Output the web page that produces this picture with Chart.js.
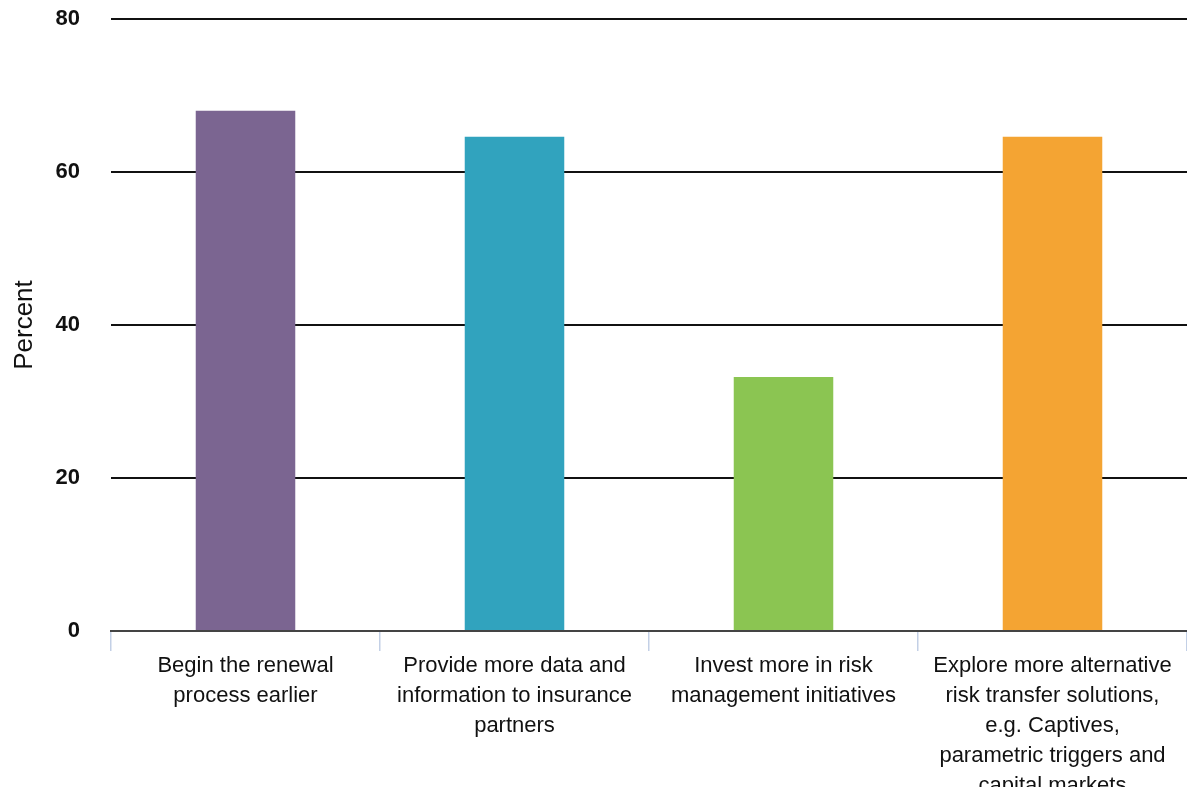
<!DOCTYPE html>
<html>
<head>
<meta charset="utf-8">
<script src="https://cdn.jsdelivr.net/npm/chart.js@4/dist/chart.umd.min.js"></script>
<style>
  html, body { margin: 0; padding: 0; background: #fff; }
  #wrap { width: 1187px; height: 787px; }
</style>
</head>
<body>
<div id="wrap"><canvas id="surveyChart"></canvas></div>
<script>
// Survey answers and their share of respondents
const actions = [
  ['Begin the renewal', 'process earlier'],
  ['Provide more data and', 'information to insurance', 'partners'],
  ['Invest more in risk', 'management initiatives'],
  ['Explore more alternative', 'risk transfer solutions,', 'e.g. Captives,', 'parametric triggers and', 'capital markets']
];
const percentValues = [68, 64.6, 33.2, 64.6];
const barColours = ['#7b6591', '#31a3be', '#8bc552', '#f4a433'];
const yTicks = [0, 20, 40, 60, 80];

const FONT = 'Liberation Sans, Arial, Helvetica, sans-serif';
const ctx = document.getElementById('surveyChart').getContext('2d');

new Chart(ctx, {
  type: 'bar',
  data: {
    labels: actions,
    datasets: [{
      label: 'Percent',
      data: percentValues,
      backgroundColor: barColours,
      borderWidth: 0,
      categoryPercentage: 0.37,
      barPercentage: 1
    }]
  },
  options: {
    responsive: true,
    maintainAspectRatio: false,
    animation: false,
    layout: { padding: { top: 19, right: -3, bottom: 0, left: 0 } },
    plugins: {
      legend: { display: false },
      tooltip: { enabled: false }
    },
    scales: {
      x: {
        grid: {
          offset: true,
          drawOnChartArea: false,
          drawTicks: true,
          tickLength: 20,
          color: '#c3d0e6',
          lineWidth: 1.5
        },
        border: { display: true, color: '#444', width: 2 },
        ticks: {
          autoSkip: false,
          maxRotation: 0,
          minRotation: 0,
          padding: 0,
          color: '#111',
          font: { family: FONT, size: 22, lineHeight: 1.36 }
        },
        afterFit: (scale) => {
          scale.height = 156;
          scale.paddingLeft = 0;
          scale.paddingRight = 0;
        }
      },
      y: {
        min: 0,
        max: 80,
        afterBuildTicks: (scale) => { scale.ticks = yTicks.map(v => ({ value: v })); },
        grid: {
          drawTicks: false,
          color: '#111',
          lineWidth: 2
        },
        border: { display: false },
        ticks: {
          padding: 31,
          color: '#111',
          font: { family: FONT, size: 22, weight: 'bold' }
        },
        title: {
          display: true,
          text: 'Percent',
          color: '#111',
          padding: { top: 9, bottom: 0 },
          font: { family: FONT, size: 26 }
        },
        afterFit: (scale) => {
          scale.width = 111;
          scale.paddingTop = 0;
          scale.paddingBottom = 0;
        }
      }
    }
  }
});
</script>
</body>
</html>
